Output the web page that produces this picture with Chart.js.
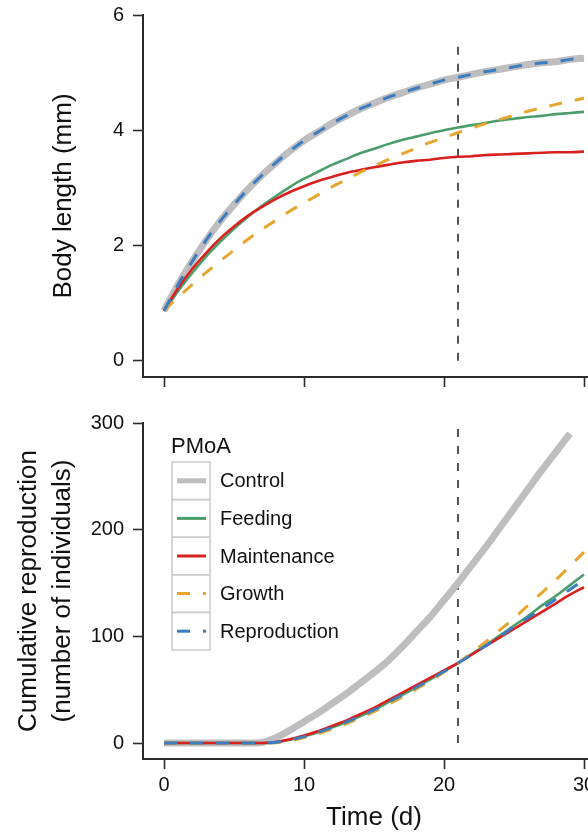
<!DOCTYPE html>
<html><head><meta charset="utf-8">
<script src="https://cdn.jsdelivr.net/npm/chart.js@4/dist/chart.umd.min.js"></script>
<style>
html,body{margin:0;padding:0;background:#fff;overflow:hidden;width:588px;height:834px;}
#wrap{position:relative;width:588px;height:834px;overflow:hidden;background:#fff;}
#c1{position:absolute;left:0;top:0;}
#c2{position:absolute;left:0;top:395px;}
</style></head><body>
<div id="wrap"><canvas id="c1" width="640" height="395"></canvas><canvas id="c2" width="640" height="439"></canvas></div>
<script>
// ---------- data ----------
const days = [0,1,2,3,4,5,6,7,8,9,10,11,12,13,14,15,16,17,18,19,20,21,22,23,24,25,26,27,28,29,30];
const seriesNames = ['Control','Feeding','Maintenance','Growth','Reproduction'];

// Body length (mm)
const lengthControl      = [0.87,1.32,1.72,2.09,2.42,2.71,2.98,3.22,3.44,3.64,3.82,3.97,4.12,4.25,4.37,4.47,4.57,4.65,4.73,4.80,4.87,4.92,4.97,5.02,5.06,5.10,5.14,5.17,5.19,5.23,5.25];
const lengthFeeding      = [0.87,1.21,1.52,1.81,2.06,2.29,2.50,2.69,2.86,3.02,3.16,3.28,3.40,3.50,3.60,3.68,3.76,3.83,3.89,3.95,4.00,4.05,4.09,4.13,4.17,4.20,4.23,4.25,4.28,4.30,4.32];
const lengthMaintenance  = [0.87,1.26,1.59,1.87,2.12,2.33,2.52,2.67,2.81,2.93,3.03,3.12,3.19,3.26,3.31,3.36,3.40,3.44,3.47,3.49,3.52,3.54,3.55,3.57,3.58,3.59,3.60,3.61,3.62,3.62,3.63];
const lengthGrowth       = [0.87,1.10,1.32,1.53,1.73,1.92,2.11,2.28,2.44,2.60,2.74,2.88,3.02,3.14,3.27,3.38,3.49,3.59,3.69,3.79,3.87,3.96,4.04,4.12,4.19,4.26,4.33,4.39,4.45,4.50,4.56];
const lengthReproduction = [0.87,1.32,1.72,2.09,2.42,2.71,2.98,3.22,3.44,3.64,3.82,3.97,4.12,4.25,4.37,4.47,4.57,4.65,4.73,4.80,4.87,4.92,4.97,5.02,5.06,5.10,5.14,5.17,5.19,5.23,5.25];

// Cumulative reproduction (number of individuals)
const reproControl      = [0,0,0,0,0,0,0,0.5,5,12,20,28,37,46,56,66,77,90,104,118,134,150,167,184,202,220,238,256,273,290];
const reproFeeding      = [0,0,0,0,0,0,0,0,0.7,3,6,10,14.5,19.5,25,31,38,45,52,59.5,67,75,83.5,92,101,110,119,129,138,148,158];
const reproMaintenance  = [0,0,0,0,0,0,0,0,1,3.5,7,11,16,21,27,33,40,47,54,61,68,75,83,91,99,107,115,123,131,139,146];
const reproGrowth       = [0,0,0,0,0,0,0,0,0.3,2,5,8.5,13,18,23.5,29.5,36,43,50.5,58,66.5,75,85,95,106,117,129,141,153,166,179];
const reproReproduction = [0,0,0,0,0,0,0,0,0.7,3,6,10,14.5,19.5,25,31,38,45,52,59.5,67,75,83,91.5,100,109,117.5,126,135,144,153];

// ticks & reference line
const xTicks = [0,10,20,30];
const lengthTicks = [0,2,4,6];
const reproTicks = [0,100,200,300];
const refDay = 21;
const refLineLength = [0,5.5];
const refLineRepro = [0,300];

// ---------- styles ----------
const FONT = "'Liberation Sans', Arial, Helvetica, sans-serif";
const TXT = '#111';
const AX = '#2b2b2b';
const styles = {
  Control:      {color:'#BEBEC0', width:7,   dash:[],      keyWidth:5, order:5},
  Feeding:      {color:'#4B9E6C', width:2.6, dash:[],      keyWidth:3, order:4},
  Maintenance:  {color:'#DA1F1F', width:2.6, dash:[],      keyWidth:3, order:3},
  Growth:       {color:'#E5A52F', width:3,   dash:[13,13], keyWidth:3, order:2},
  Reproduction: {color:'#3B7DBE', width:3,   dash:[13,13], keyWidth:3, order:1}
};

const toPts = vals => vals.map((v,i)=>({x:days[i], y:v}));
function makeSets(valsList, refVals){
  const sets = valsList.map((vals,i)=>{
    const st = styles[seriesNames[i]];
    return {label:seriesNames[i], data:toPts(vals), borderColor:st.color, borderWidth:st.width,
      borderDash:st.dash, pointRadius:0, fill:false, cubicInterpolationMode:'monotone',
      borderCapStyle:'butt', order:st.order};
  });
  sets.push({label:'ref', data:refVals.map(v=>({x:refDay,y:v})), borderColor:AX, borderWidth:1.6,
    borderDash:[8,9], pointRadius:0, fill:false, order:6});
  return sets;
}

function xScale(showLabels, fixedHeight){
  return {
    type:'linear', min:-1.5, max:31.5,
    afterBuildTicks: s => { s.ticks = xTicks.map(v=>({value:v})); },
    afterFit: s => { s.height = fixedHeight; s.paddingLeft = 0; s.paddingRight = 0; },
    grid:{drawOnChartArea:false, drawTicks:true, tickLength:10, tickWidth:1.6, tickColor:AX},
    border:{display:true, color:AX, width:2},
    ticks:{display:showLabels, padding:4, color:TXT, font:{family:FONT, size:20}, maxRotation:0, autoSkip:false},
    title:{display:showLabels, text:'Time (d)', color:TXT, font:{family:FONT, size:26}, padding:{top:2,bottom:0}}
  };
}
function yScale(min,max,ticksArr,titleText,titlePad,lh){
  return {
    type:'linear', min:min, max:max,
    afterBuildTicks: s => { s.ticks = ticksArr.map(v=>({value:v})); },
    afterFit: s => { s.width = 143; s.paddingTop = 0; s.paddingBottom = 0; },
    grid:{drawOnChartArea:false, drawTicks:true, tickLength:10, tickWidth:1.6, tickColor:AX},
    border:{display:true, color:AX, width:2},
    ticks:{padding:9, color:TXT, font:{family:FONT, size:20}},
    title:{display:true, text:titleText, color:TXT, font:{family:FONT, size:26, lineHeight:lh}, padding:{top:titlePad,bottom:0}}
  };
}

const legendPlugin = {
  id:'pmoaLegend',
  afterDatasetsDraw(chart){
    const {ctx, chartArea} = chart;
    const x0 = chartArea.left + 29, y0 = chartArea.top + 39;
    const rowH = 37.6, boxW = 38;
    ctx.save();
    ctx.fillStyle = TXT; ctx.textBaseline = 'middle'; ctx.textAlign = 'left';
    ctx.font = '22px ' + FONT;
    ctx.fillText('PMoA', chartArea.left + 28, chartArea.top + 24);
    seriesNames.forEach((name,i)=>{
      const st = styles[name];
      const yTop = y0 + i*rowH, yc = yTop + rowH/2;
      ctx.setLineDash([]);
      ctx.strokeStyle = '#cdcdcd'; ctx.lineWidth = 1.6;
      ctx.strokeRect(x0, yTop, boxW, rowH);
      ctx.strokeStyle = st.color; ctx.lineWidth = st.keyWidth; ctx.lineCap = 'butt';
      ctx.setLineDash(st.dash);
      ctx.beginPath(); ctx.moveTo(x0+5, yc); ctx.lineTo(x0+boxW-4, yc); ctx.stroke();
      ctx.setLineDash([]);
      ctx.fillStyle = TXT; ctx.font = '20px ' + FONT;
      ctx.fillText(name, x0 + boxW + 10, yc + 1);
    });
    ctx.restore();
  }
};

const common = {responsive:false, animation:false, devicePixelRatio:1,
  plugins:{legend:{display:false}, tooltip:{enabled:false}}};

new Chart(document.getElementById('c1'), {
  type:'line',
  data:{datasets: makeSets([lengthControl,lengthFeeding,lengthMaintenance,lengthGrowth,lengthReproduction], refLineLength)},
  options:Object.assign({}, common, {
    layout:{padding:{left:0, top:15, right:35, bottom:8}},
    scales:{x:xScale(false, 10), y:yScale(-0.28, 6, lengthTicks, 'Body length (mm)', 48.4, 1.2)}
  })
});

new Chart(document.getElementById('c2'), {
  type:'line',
  data:{datasets: makeSets([reproControl,reproFeeding,reproMaintenance,reproGrowth,reproReproduction], refLineRepro)},
  options:Object.assign({}, common, {
    layout:{padding:{left:0, top:28, right:35, bottom:1}},
    scales:{x:xScale(true, 74), y:yScale(-15, 300, reproTicks, ['Cumulative reproduction','(number of individuals)'], 12.3, 1.29)}
  }),
  plugins:[legendPlugin]
});
</script>
</body></html>
